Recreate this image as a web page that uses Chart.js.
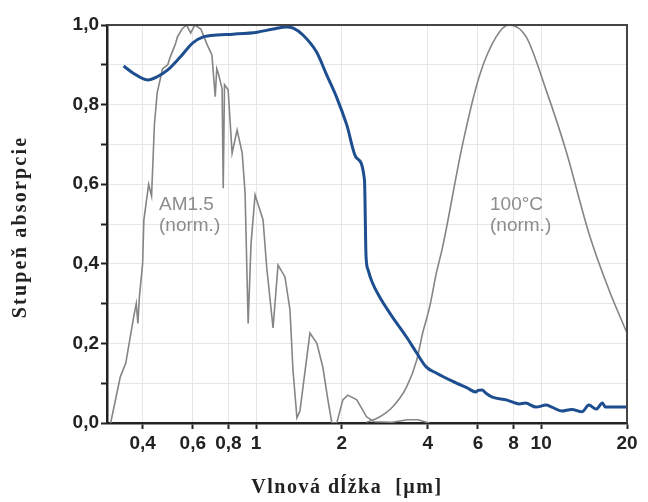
<!DOCTYPE html>
<html>
<head>
<meta charset="utf-8">
<script src="https://cdn.jsdelivr.net/npm/chart.js@4.4.1/dist/chart.umd.min.js"></script>
<style>
  body { margin: 0; background: #fff; }
</style>
</head>
<body>
<canvas id="absChart" width="648" height="502"></canvas>
<script>
// values, wavelength in um
var absWl = [0.343, 0.371, 0.416, 0.45, 0.49, 0.543, 0.60, 0.653, 0.73, 0.83, 1.01, 1.15, 1.28, 1.35, 1.46, 1.63, 1.77, 1.92, 2.08, 2.25, 2.40, 2.43, 2.47, 2.55, 2.71, 3.01, 3.37, 3.66, 3.95, 4.3, 4.88, 5.5, 5.9, 6.0, 6.2, 6.4, 6.74, 7.55, 8.38, 8.8, 9.6, 10.4, 10.9, 11.8, 12.8, 13.9, 14.7, 15.6, 16.4, 16.8, 18, 20];
var absVal = [0.897, 0.879, 0.862, 0.87, 0.887, 0.92, 0.955, 0.97, 0.975, 0.977, 0.982, 0.99, 0.995, 0.992, 0.975, 0.932, 0.874, 0.817, 0.749, 0.666, 0.611, 0.42, 0.385, 0.355, 0.317, 0.266, 0.216, 0.176, 0.141, 0.125, 0.105, 0.088, 0.078, 0.082, 0.083, 0.075, 0.065, 0.058, 0.048, 0.05, 0.04, 0.045, 0.04, 0.03, 0.034, 0.028, 0.045, 0.035, 0.05, 0.04, 0.04, 0.04];

var amWl = [0.309, 0.334, 0.349, 0.372, 0.38, 0.385, 0.39, 0.40, 0.404, 0.42, 0.43, 0.44, 0.45, 0.47, 0.49, 0.50, 0.52, 0.53, 0.55, 0.57, 0.59, 0.61, 0.64, 0.674, 0.70, 0.719, 0.728, 0.736, 0.76, 0.767, 0.775, 0.798, 0.824, 0.858, 0.894, 0.915, 0.938, 0.96, 0.992, 1.058, 1.09, 1.147, 1.194, 1.263, 1.315, 1.347, 1.391, 1.425, 1.545, 1.634, 1.715, 1.786, 1.844, 1.919, 2.015, 2.098, 2.256, 2.443, 2.6, 3.0, 3.4, 3.7, 4.05];
var amVal = [0, 0.116, 0.15, 0.266, 0.30, 0.25, 0.32, 0.40, 0.51, 0.60, 0.57, 0.75, 0.83, 0.89, 0.90, 0.92, 0.95, 0.97, 0.99, 1.0, 0.98, 1.0, 0.99, 0.95, 0.925, 0.82, 0.89, 0.88, 0.84, 0.59, 0.85, 0.837, 0.678, 0.736, 0.678, 0.578, 0.25, 0.45, 0.573, 0.51, 0.39, 0.239, 0.397, 0.367, 0.284, 0.133, 0.013, 0.03, 0.226, 0.2, 0.14, 0.058, 0, 0, 0.058, 0.07, 0.058, 0.015, 0.003, 0.002, 0.008, 0.008, 0];

var bbWl = [2.44, 2.71, 3.01, 3.37, 3.66, 3.84, 4.06, 4.29, 4.51, 5.3, 6.06, 6.95, 7.7, 8.86, 10.4, 12.2, 14.7, 17.3, 20];
var bbVal = [0.002, 0.015, 0.04, 0.09, 0.158, 0.226, 0.291, 0.377, 0.442, 0.70, 0.87, 0.97, 1.0, 0.97, 0.837, 0.686, 0.477, 0.334, 0.226];

var xTicks = [0.4, 0.6, 0.8, 1, 2, 4, 6, 8, 10, 20];
var xTickLabels = ['0,4', '0,6', '0,8', '1', '2', '4', '6', '8', '10', '20'];
var yTicks = [0, 0.1, 0.2, 0.3, 0.4, 0.5, 0.6, 0.7, 0.8, 0.9, 1.0];
var yTickLabels = ['0,0', '', '0,2', '', '0,4', '', '0,6', '', '0,8', '', '1,0'];

function toPoints(xs, ys) {
    return xs.map(function (x, i) { return { x: x, y: ys[i] }; });
}

// frame, axis titles and curve labels
var decor = {
    id: 'decor',
    afterDraw: function (chart) {
        var ctx = chart.ctx;
        var a = chart.chartArea;
        ctx.save();
        ctx.strokeStyle = '#444';
        ctx.lineWidth = 2;
        ctx.beginPath();
        ctx.moveTo(a.left, a.top);
        ctx.lineTo(a.right, a.top);
        ctx.lineTo(a.right, a.bottom);
        ctx.stroke();

        ctx.fillStyle = '#8c8c8c';
        ctx.font = '19px "Liberation Sans", Arial, sans-serif';
        ctx.textAlign = 'left';
        ctx.textBaseline = 'alphabetic';
        ctx.fillText('AM1.5', 159, 210);
        ctx.fillText('(norm.)', 159, 231);
        ctx.fillText('100°C', 490, 210);
        ctx.fillText('(norm.)', 490, 231);

        ctx.fillStyle = '#222';
        ctx.font = 'bold 20px "Liberation Serif", "Times New Roman", serif';
        ctx.textAlign = 'center';
        ctx.textBaseline = 'middle';
        ctx.letterSpacing = '1.5px';
        ctx.fillText('Vlnová dĺžka  [µm]', 347, 488);
        ctx.letterSpacing = '2.2px';
        ctx.translate(21, 227);
        ctx.rotate(-Math.PI / 2);
        ctx.fillText('Stupeň absorpcie', 0, 0);
        ctx.restore();
    }
};

var tickFont = { family: '"Liberation Sans", Arial, sans-serif', size: 19, weight: 'bold' };

var ctx = document.getElementById('absChart').getContext('2d');
var absChart = new Chart(ctx, {
    type: 'scatter',
    data: {
        datasets: [{
            label: 'Stupeň absorpcie',
            data: toPoints(absWl, absVal),
            showLine: true,
            borderColor: '#1d4e8f',
            borderWidth: 3,
            pointRadius: 0,
            cubicInterpolationMode: 'monotone'
        }, {
            label: 'AM1.5 (norm.)',
            data: toPoints(amWl, amVal),
            showLine: true,
            borderColor: '#858585',
            borderWidth: 1.6,
            pointRadius: 0,
            tension: 0
        }, {
            label: '100°C (norm.)',
            data: toPoints(bbWl, bbVal),
            showLine: true,
            borderColor: '#858585',
            borderWidth: 1.6,
            pointRadius: 0,
            cubicInterpolationMode: 'monotone'
        }]
    },
    options: {
        responsive: false,
        animation: false,
        layout: { padding: { left: 0, top: 25, right: 21, bottom: 0 } },
        plugins: {
            legend: { display: false },
            tooltip: { enabled: false }
        },
        scales: {
            x: {
                type: 'logarithmic',
                min: 0.3,
                max: 20,
                afterBuildTicks: function (scale) {
                    scale.ticks = xTicks.map(function (v) { return { value: v }; });
                },
                afterFit: function (scale) { scale.height = 79; },
                ticks: {
                    autoSkip: false,
                    maxRotation: 0,
                    padding: 3,
                    color: '#222',
                    font: tickFont,
                    callback: function (value, index) { return xTickLabels[index]; }
                },
                grid: { color: '#e6e6e6', lineWidth: 1, tickLength: 6, tickColor: '#222', tickWidth: 2 },
                border: { color: '#222', width: 2.5 }
            },
            y: {
                min: 0,
                max: 1,
                afterBuildTicks: function (scale) {
                    scale.ticks = yTicks.map(function (v) { return { value: v }; });
                },
                afterFit: function (scale) { scale.width = 107; },
                ticks: {
                    autoSkip: false,
                    padding: 2,
                    color: '#222',
                    font: tickFont,
                    callback: function (value, index) { return yTickLabels[index]; }
                },
                grid: { color: '#e6e6e6', lineWidth: 1, tickLength: 6, tickColor: '#222', tickWidth: 2 },
                border: { color: '#222', width: 2.5 }
            }
        }
    },
    plugins: [decor]
});
</script>
</body>
</html>
